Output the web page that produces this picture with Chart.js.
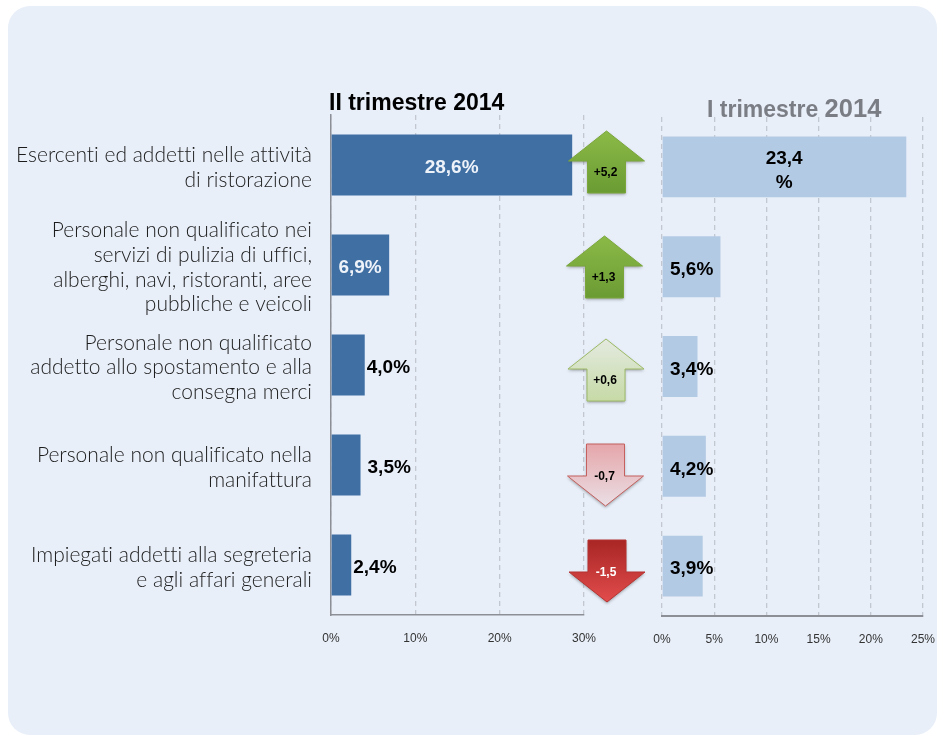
<!DOCTYPE html>
<html><head><meta charset="utf-8">
<script src="https://cdn.jsdelivr.net/npm/chart.js@4"></script>
<style>
html,body{margin:0;padding:0;background:#fff;width:937px;height:735px;overflow:hidden}
#panel{position:absolute;left:8px;top:6px;width:929px;height:729px;background:#e8eff9;border-radius:22px}
canvas{position:absolute;top:0}
</style></head><body>
<div id="panel"></div>
<canvas id="left" width="650" height="735" style="left:0"></canvas>
<canvas id="right" width="287" height="735" style="left:650px"></canvas>
<script>
const categories = [
  ["Esercenti ed addetti nelle attività","di ristorazione"],
  ["Personale non qualificato nei","servizi di pulizia di uffici,","alberghi, navi, ristoranti, aree","pubbliche e veicoli"],
  ["Personale non qualificato","addetto allo spostamento e alla","consegna merci"],
  ["Personale non qualificato nella","manifattura"],
  ["Impiegati addetti alla segreteria","e agli affari generali"]
];
const trimestreII = [28.6, 6.9, 4.0, 3.5, 2.4];
const trimestreI = [23.4, 5.6, 3.4, 4.2, 3.9];
const variazione = [5.2, 1.3, 0.6, -0.7, -1.5];
const titleII = "II trimestre 2014";
const titleI = ["I trimestre ", "2014"];
const arrowLook = ["strongUp","strongUp","paleUp","paleDown","strongDown"];
const arrowShift = [-1, 4, 7, 8, 4];
const arrowCentre = [22.5, 20.5, 22, 21.5, 23];

const LOOK = {
  strongUp:{from:"#8cba48",to:"#6a9b33",edge:"#7aa63c",text:"#000"},
  paleUp:{from:"#e4eae0",to:"#c6daa6",edge:"#9cba66",text:"#000"},
  paleDown:{from:"#e5a6aa",to:"#eadfe5",edge:"#c4605e",text:"#000"},
  strongDown:{from:"#a82625",to:"#e24c4c",edge:"#b53331",text:"#fff"}
};
const comma = (v,d=1)=>v.toFixed(d).replace(".",",");
const signed = v=>(v>0?"+":"-")+comma(Math.abs(v));
const BOLD = 'bold 19px "Liberation Sans"';

function shapeArrow(ctx,cx,cy,up){
  const d = up?1:-1;
  const pts = [[0,-33],[38,-3],[19,-3],[19,29],[-19,29],[-19,-3],[-38,-3]];
  ctx.beginPath();
  pts.forEach((p,i)=>{ const X=cx+p[0], Y=cy+d*p[1]; i?ctx.lineTo(X,Y):ctx.moveTo(X,Y); });
  ctx.closePath();
}

const noLigatures = {
  id:"noLigatures",
  beforeDraw(chart){ chart.ctx.letterSpacing="0.01px"; }
};
const arrowsAndTitle = {
  id:"arrowsAndTitle",
  afterDatasetsDraw(chart){
    const {ctx,chartArea,scales} = chart;
    ctx.save();
    trimestreII.forEach((v,i)=>{
      const y = scales.y.getPixelForValue(i);
      const txt = comma(v)+"%";
      ctx.font = BOLD; ctx.textBaseline="middle";
      const end = scales.x.getPixelForValue(v);
      if(i<2){ ctx.fillStyle="#eef3fa"; ctx.textAlign="center"; ctx.fillText(txt,(scales.x.getPixelForValue(0)+end)/2,y+3); }
      else { ctx.fillStyle="#000"; ctx.textAlign="left"; ctx.fillText(txt,end+[0,0,2,7,2][i],y+3); }
    });
    variazione.forEach((v,i)=>{
      const look = LOOK[arrowLook[i]], up = v>0;
      const cx = chartArea.right+arrowCentre[i], cy = scales.y.getPixelForValue(i)+arrowShift[i];
      const top = up?cy-33:cy-29, bot = up?cy+29:cy+33;
      const g = ctx.createLinearGradient(0,top,0,bot);
      g.addColorStop(0,look.from); g.addColorStop(1,look.to);
      ctx.save();
      ctx.shadowColor="rgba(60,60,60,.45)"; ctx.shadowBlur=3; ctx.shadowOffsetY=1.5;
      shapeArrow(ctx,cx,cy,up);
      ctx.fillStyle=g; ctx.fill();
      ctx.shadowColor="transparent";
      ctx.strokeStyle=look.edge; ctx.lineWidth=1; ctx.stroke();
      ctx.restore();
      ctx.font='bold 12px "Liberation Sans"'; ctx.textAlign="center"; ctx.textBaseline="middle";
      ctx.fillStyle=look.text;
      ctx.fillText(signed(v),cx-1,up?cy+9:cy+4);
    });
    ctx.fillStyle="#000"; ctx.textAlign="left"; ctx.textBaseline="alphabetic";
    ctx.font='bold 23px "Liberation Sans"';
    ctx.fillText(titleII,chartArea.left-2,chartArea.top-5);
    ctx.restore();
  }
};
const labelsAndTitle = {
  id:"labelsAndTitle",
  afterDatasetsDraw(chart){
    const {ctx,chartArea,scales} = chart;
    ctx.save();
    ctx.fillStyle="#000"; ctx.font=BOLD; ctx.textBaseline="middle";
    trimestreI.forEach((v,i)=>{
      const y = scales.y.getPixelForValue(i);
      if(i===0){
        ctx.textAlign="center";
        const c = (scales.x.getPixelForValue(0)+scales.x.getPixelForValue(v))/2;
        ctx.fillText(comma(v),c,y-8);
        ctx.fillText("%",c,y+16);
      } else {
        ctx.textAlign="left";
        ctx.fillText(comma(v)+"%",chartArea.left+8,y+3);
      }
    });
    ctx.textBaseline="alphabetic"; ctx.fillStyle="#7b7d85";
    const x0 = chartArea.left+45;
    ctx.font='bold 23px "Liberation Sans"';
    ctx.fillText(titleI[0],x0,chartArea.top);
    const w = ctx.measureText(titleI[0]).width;
    ctx.font='bold 25.5px "Liberation Sans"';
    ctx.fillText(titleI[1],x0+w,chartArea.top);
    ctx.restore();
  }
};
const tickFont = {family:'"Liberation Sans"',size:12};
const grid = {color:"#c3c7d0",lineWidth:1.3,drawTicks:false};
const noPad = s=>{s.paddingLeft=0;s.paddingRight=0;};

new Chart(document.getElementById("left"),{
  type:"bar",
  data:{labels:categories,datasets:[{data:trimestreII,backgroundColor:"#3f6fa3",barPercentage:.61,categoryPercentage:1}]},
  plugins:[noLigatures,arrowsAndTitle],
  options:{
    indexAxis:"y",responsive:false,animation:false,
    layout:{padding:{top:115,right:66,left:0,bottom:0}},
    plugins:{legend:{display:false},tooltip:{enabled:false}},
    scales:{
      x:{min:0,max:30,afterFit(s){s.height=120;noPad(s);},
        ticks:{stepSize:10,padding:16,color:"#333",font:tickFont,maxRotation:0,autoSkip:false,callback:v=>v+"%"},
        grid:{...grid},
        border:{display:true,color:"#8d8f96",width:1.5,dash:[5,4]}},
      y:{afterFit(s){s.width=331},
        ticks:{padding:19,labelOffset:2.5,color:"#1c1c1c",autoSkip:false,font:{family:"Lato",size:21,weight:"300",lineHeight:1.17}},
        grid:{display:false,drawTicks:false},
        border:{display:true,color:"#8d8f96",width:1.5}}
    }
  }
});
new Chart(document.getElementById("right"),{
  type:"bar",
  data:{labels:categories,datasets:[{data:trimestreI,backgroundColor:"#b3cae4",barPercentage:.61,categoryPercentage:1}]},
  plugins:[labelsAndTitle],
  options:{
    indexAxis:"y",responsive:false,animation:false,
    layout:{padding:{top:117,right:14,left:0,bottom:0}},
    plugins:{legend:{display:false},tooltip:{enabled:false}},
    scales:{
      x:{min:0,max:25,afterFit(s){s.height=119;noPad(s);},
        ticks:{stepSize:5,padding:16,color:"#333",font:tickFont,maxRotation:0,autoSkip:false,callback:v=>v+"%"},
        grid:{...grid},
        border:{display:true,color:"#8d8f96",width:2,dash:[5,4]}},
      y:{afterFit(s){s.width=12},
        ticks:{display:false},
        grid:{display:false,drawTicks:false},
        border:{display:false}}
    }
  }
});
</script>
</body></html>
